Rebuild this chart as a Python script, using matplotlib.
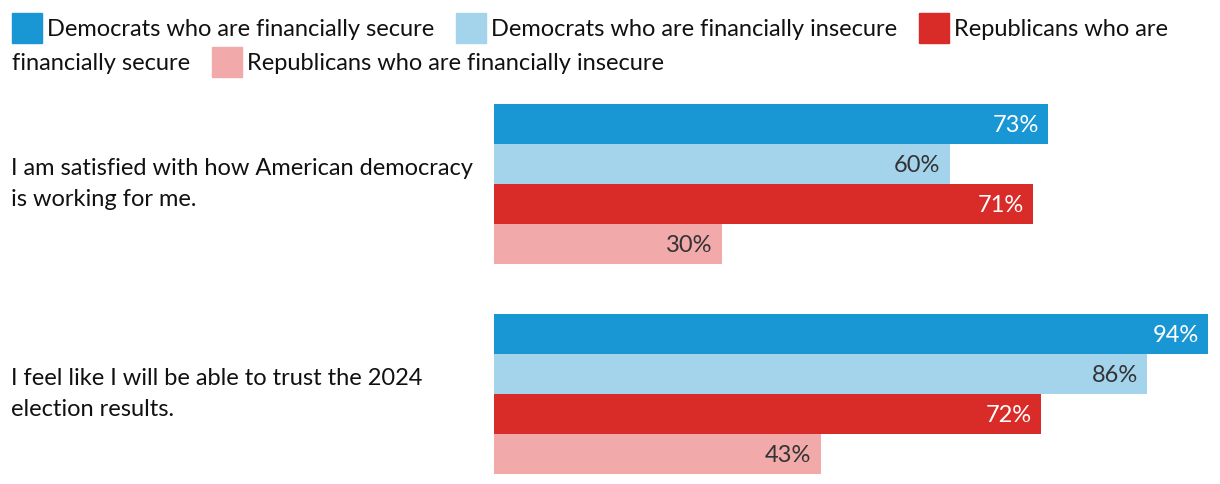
import numpy as np
import matplotlib
matplotlib.use("Agg")
from matplotlib import pyplot as plt
from matplotlib.patches import Rectangle

# datos
statements = ["I am satisfied with how American democracy\nis working for me.",
              "I feel like I will be able to trust the 2024\nelection results."]
series = ["Democrats who are financially secure",
          "Democrats who are financially insecure",
          "Republicans who are financially secure",
          "Republicans who are financially insecure"]
dem_secure = [73, 94]
dem_insecure = [60, 86]
rep_secure = [71, 72]
rep_insecure = [30, 43]

colors = ["#1897d4", "#a3d4eb", "#d92b28", "#f1a9a9"]
text_colors = ["white", "#333333", "white", "#333333"]
FS = 17

plt.rcParams['font.family'] = ['Lato', 'DejaVu Sans']

fig = plt.figure(figsize=(12.2, 4.84), dpi=100)
ax = fig.add_axes([494/1220, 1 - 474/484, (1208 - 494)/1220, 370/484])

values = [dem_secure, dem_insecure, rep_secure, rep_insecure]
group_gap = 5.25
for j, vals in enumerate(values):
    for i, v in enumerate(vals):
        y = i * group_gap + (j - 1.5)
        ax.barh(y, v, height=1.0, color=colors[j])
        ax.text(v - 1.25, y + 0.04, f"{v}%", ha='right', va='center',
                fontsize=FS, color=text_colors[j])

for i, s in enumerate(statements):
    ax.text(-0.677, i * group_gap, s, transform=ax.get_yaxis_transform(),
            ha='left', va='center', fontsize=FS, color='#111111',
            linespacing=1.55)

ax.set_xlim(0, max(max(v) for v in values))
ax.set_ylim(group_gap + 2, -2)
ax.axis('off')

# leyenda a mano (ocupa dos lineas)
x, y = 12, 28
row_h = 34
ty = 1.5  # ajuste vertical del texto
for j, name in enumerate(series):
    sq = Rectangle((x / 1220, 1 - (y + 15) / 484), 30 / 1220, 30 / 484,
                   transform=fig.transFigure, color=colors[j])
    fig.patches.append(sq)
    x += 35
    t = fig.text(x / 1220, 1 - (y + ty) / 484, name, ha='left', va='center',
                 fontsize=FS, color='#111111')
    fig.canvas.draw()
    w = t.get_window_extent().width
    if x + w > 1215:
        # partir el texto en dos lineas
        t.remove()
        parts = name.split(" ")
        first = ""
        rest = name
        for k in range(len(parts), 0, -1):
            cand = " ".join(parts[:k])
            tt = fig.text(x / 1220, 1 - y / 484, cand, fontsize=FS)
            fig.canvas.draw()
            ww = tt.get_window_extent().width
            tt.remove()
            if x + ww <= 1215:
                first = cand
                rest = " ".join(parts[k:])
                break
        fig.text(x / 1220, 1 - (y + ty) / 484, first, ha='left', va='center',
                 fontsize=FS, color='#111111')
        y += row_h
        x = 12
        t = fig.text(x / 1220, 1 - (y + ty) / 484, rest, ha='left', va='center',
                     fontsize=FS, color='#111111')
        fig.canvas.draw()
        w = t.get_window_extent().width
    x += w + 22

fig.savefig("out.png", dpi=100)
